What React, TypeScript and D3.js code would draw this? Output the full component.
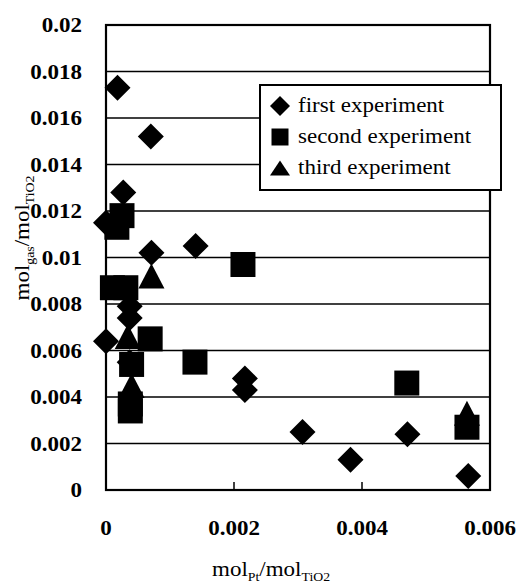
import React from "react";
import * as d3 from "d3";

const firstX = [0.00018, 0.0007, 0.00027, 0.0, 0.00071, 0.0014, 0.00037, 0.00037, 0.0, 0.00037, 0.00217, 0.00217, 0.00307, 0.00382, 0.00471, 0.00566];
const firstY = [0.0173, 0.0152, 0.0128, 0.0115, 0.0102, 0.0105, 0.0079, 0.0074, 0.0064, 0.0055, 0.0048, 0.0043, 0.0025, 0.0013, 0.0024, 0.0006];

const secondX = [0.00025, 0.00017, 0.0001, 0.00031, 0.00214, 0.00069, 0.0004, 0.00139, 0.00038, 0.00038, 0.0047, 0.00564];
const secondY = [0.0118, 0.0113, 0.0087, 0.0087, 0.0097, 0.0065, 0.0054, 0.0055, 0.0037, 0.0034, 0.0046, 0.0027];

const thirdX = [0.00071, 0.00034, 0.0004, 0.00564];
const thirdY = [0.0092, 0.0066, 0.0045, 0.0033];

const xTicks = [0, 0.002, 0.004, 0.006];
const xTickLabels = ["0", "0.002", "0.004", "0.006"];
const yTicks = [0, 0.002, 0.004, 0.006, 0.008, 0.01, 0.012, 0.014, 0.016, 0.018, 0.02];
const yTickLabels = ["0", "0.002", "0.004", "0.006", "0.008", "0.01", "0.012", "0.014", "0.016", "0.018", "0.02"];
const legendLabels = ["first experiment", "second experiment", "third experiment"];

const FONT = "Liberation Serif, DejaVu Serif, serif";
const SX = 1.15;

function diamond(cx: number, cy: number, r: number) {
  return `M${cx},${cy - r}L${cx + r},${cy}L${cx},${cy + r}L${cx - r},${cy}Z`;
}
function square(cx: number, cy: number, r: number) {
  return `M${cx - r},${cy - r}H${cx + r}V${cy + r}H${cx - r}Z`;
}
function triangle(cx: number, cy: number, w: number, h: number) {
  return `M${cx},${cy - h * 0.5}L${cx + w / 2},${cy + h * 0.5}L${cx - w / 2},${cy + h * 0.5}Z`;
}

export default function App() {
  const left = 106, right = 490, top = 25, bottom = 490;
  const x = d3.scaleLinear().domain([0, 0.006]).range([left, right]);
  const y = d3.scaleLinear().domain([0, 0.02]).range([bottom, top]);
  const ts = { fontFamily: FONT } as React.CSSProperties;

  return (
    <svg width={521} height={587} style={{ position: "absolute", left: 0, top: 0, background: "#fff", fontFamily: FONT }}>
      <rect x={0} y={0} width={521} height={587} fill="#fff" />
      {yTicks.slice(1, -1).map((t) => (
        <line key={"g" + t} x1={left} x2={right} y1={y(t)} y2={y(t)} stroke="#000" strokeWidth={1.5} />
      ))}
      <rect x={left} y={top} width={right - left} height={bottom - top} fill="none" stroke="#000" strokeWidth={2.2} />
      {xTicks.map((t) => (
        <line key={"xt" + t} x1={x(t)} x2={x(t)} y1={bottom} y2={bottom - 8} stroke="#000" strokeWidth={1.5} />
      ))}
      {yTicks.map((t, i) => (
        <text key={"yl" + t} style={ts} transform={`translate(82,${y(t) + 7}) scale(${SX},1)`} textAnchor="end" fontSize={20} fontWeight="bold">
          {yTickLabels[i]}
        </text>
      ))}
      {xTicks.map((t, i) => (
        <text key={"xl" + t} style={ts} transform={`translate(${x(t)},535) scale(${SX},1)`} textAnchor="middle" fontSize={20} fontWeight="bold">
          {xTickLabels[i]}
        </text>
      ))}
      <text style={ts} transform={`translate(212,576) scale(${SX},1)`} fontSize={20}>
        mol<tspan fontSize={12} dy={5}>Pt</tspan>
        <tspan dy={-5}>/mol</tspan>
        <tspan fontSize={12} dy={5}>TiO2</tspan>
      </text>
      <text style={ts} transform={`translate(29,238) rotate(-90) scale(${SX},1)`} fontSize={20} textAnchor="middle">
        mol<tspan fontSize={12} dy={5}>gas</tspan>
        <tspan dy={-5}>/mol</tspan>
        <tspan fontSize={12} dy={5}>TiO2</tspan>
      </text>
      <g fill="#000">
        {firstX.map((v, i) => (
          <path key={"d" + i} d={diamond(x(v), y(firstY[i]), 13)} />
        ))}
        {secondX.map((v, i) => (
          <path key={"s" + i} d={square(x(v), y(secondY[i]), 12.5)} />
        ))}
        {thirdX.map((v, i) => (
          <path key={"t" + i} d={triangle(x(v), y(thirdY[i]), 26, 25)} />
        ))}
      </g>
      <rect x={260} y={85} width={241} height={105} fill="#fff" stroke="#000" strokeWidth={2} />
      <path d={diamond(280, 106, 10)} fill="#000" />
      <path d={square(280, 137, 8.5)} fill="#000" />
      <path d={triangle(280, 168, 20, 15)} fill="#000" />
      {legendLabels.map((l, i) => (
        <text key={l} style={ts} transform={`translate(298,${112 + i * 31}) scale(${SX},1)`} fontSize={20}>
          {l}
        </text>
      ))}
    </svg>
  );
}
